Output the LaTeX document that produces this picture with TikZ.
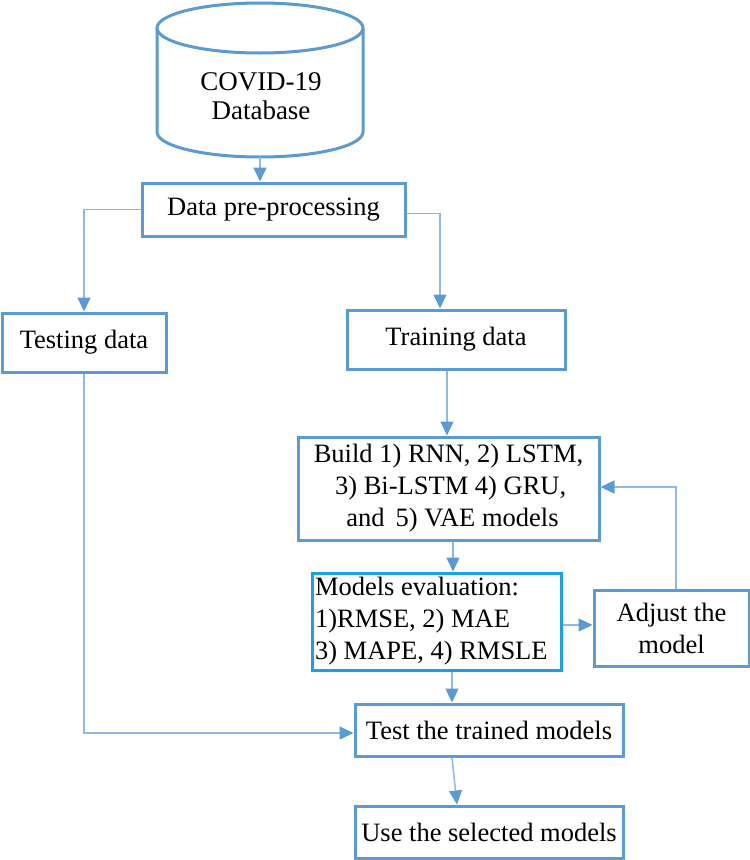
\documentclass[tikz,border=0pt]{standalone}
\usepackage{fontspec}
\setmainfont{Liberation Serif}
\usetikzlibrary{arrows.meta,calc}
\definecolor{boxblue}{HTML}{5B9BD5}
\definecolor{cyanblue}{HTML}{1AA0E6}
\definecolor{lineblue}{HTML}{8DB9E4}
\tikzset{
  box/.style={draw=boxblue, line width=3pt, inner sep=0pt, font=\fontsize{26.5}{32}\selectfont},
  conn/.style={draw=lineblue, line width=1.5pt, -{Triangle[width=13pt,length=14pt,fill=boxblue,color=boxblue]}}
}
\begin{document}
\begin{tikzpicture}[x=1pt,y=-1pt]
\useasboundingbox (0,0) rectangle (750,860);
% cylinder
\draw[boxblue, line width=3pt] (157,28) -- (157,132) arc[start angle=180,end angle=0,x radius=103,y radius=25] -- (363,28);
\draw[boxblue, line width=3pt] (260,28) ellipse[x radius=103, y radius=25];
\node[font=\fontsize{27}{29}\selectfont, align=center] (db) at (261,96) {COVID-19\\Database};
\coordinate (dbb) at (260,157);
% boxes
\node[box, minimum width=263pt, minimum height=53pt] (pre) at (273.5,209.5) {Data pre-processing};
\node[box, minimum width=164pt, minimum height=59pt] (test) at (84,342.5) {Testing data};
\node[box, minimum width=218pt, minimum height=59pt] (train) at (456,339.5) {Training data};
\node[box, minimum width=301pt, minimum height=103pt, align=center] (build) at (448.5,488.5) {Build 1) RNN, 2) LSTM,\\ \,3) Bi-LSTM 4) GRU,\hspace*{24pt}\\ \hspace{0.3em}and\, 5) VAE models};
\node[box, draw=cyanblue, minimum width=249pt, minimum height=97pt, align=flush left, text width=243pt] (eval) at (436.5,621.5) {Models evaluation:\\1)RMSE, 2) MAE\\3) MAPE, 4) RMSLE};
\node[box, minimum width=155pt, minimum height=76pt, align=center] (adj) at (671.5,628) {Adjust the\\model};
\node[box, minimum width=268pt, minimum height=52pt] (testm) at (489,730) {Test the trained models};
\node[box, minimum width=268pt, minimum height=52pt] (use) at (489,832) {Use the selected models};
% connectors
\draw[conn] (dbb) -- (pre.north -| dbb);
\draw[conn] (pre.west) -| (test.north);
\draw[conn] ($(pre.east)+(0,4)$) -| (train.north -| 440,0);
\draw[conn] (train.south -| 447,0) -- (build.north -| 447,0);
\draw[conn] (build.south -| 453,0) -- (eval.north -| 453,0);
\draw[conn] (eval.east |- 0,625) -- (adj.west |- 0,625);
\draw[conn] (adj.north -| 676,0) |- (build.east |- 0,487);
\draw[conn] (test.south) |- (testm.west |- 0,733);
\draw[conn] (eval.south -| 452,0) -- (testm.north -| 452,0);
\draw[conn] (testm.south -| 452,0) -- (use.north -| 457,0);
\end{tikzpicture}
\end{document}
